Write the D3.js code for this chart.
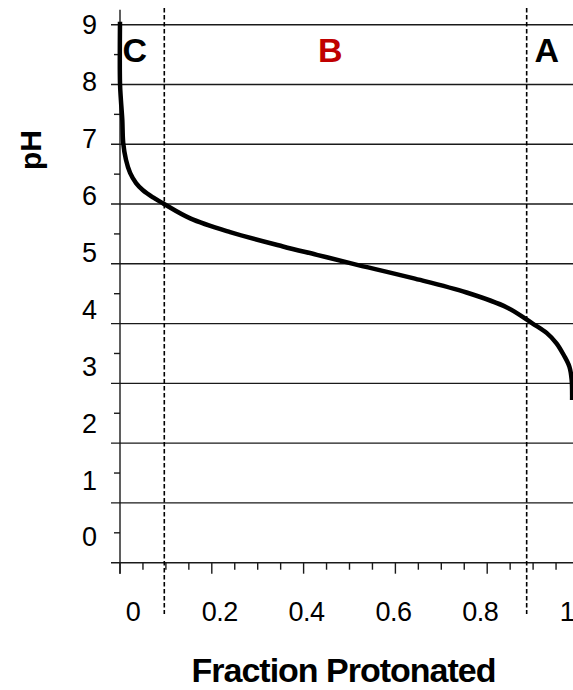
<!DOCTYPE html>
<html>
<head>
<meta charset="utf-8">
<script src="https://cdn.jsdelivr.net/npm/d3@7"></script>
<style>
  html, body { margin: 0; padding: 0; background: #fff; }
  svg { display: block; font-family: "Liberation Sans", Arial, Helvetica, sans-serif; }
</style>
</head>
<body>
<svg id="chart" width="573" height="690"></svg>
<script>
// ---- data ----
const fractionProtonated = [0.000, 0.000, 0.002, 0.005, 0.007, 0.013, 0.022, 0.035, 0.050, 0.072, 0.094, 0.153, 0.240, 0.355, 0.429, 0.508, 0.638, 0.755, 0.843, 0.899, 0.930, 0.951, 0.967, 0.979, 0.984, 0.985];
const pHValues           = [9.05,  8.02,  7.74,  7.41,  7.02,  6.74,  6.52,  6.35,  6.23,  6.11,  6.01,  5.76,  5.53,  5.29,  5.15,  5.00,  4.76,  4.52,  4.27,  4.00,  3.84,  3.67,  3.47,  3.28,  3.06,  2.72];
const yTickLabels = [0, 1, 2, 3, 4, 5, 6, 7, 8, 9];
const xTickLabels = ["0", "0.2", "0.4", "0.6", "0.8", "1"];
const xTickValues = [0, 0.2, 0.4, 0.6, 0.8, 1];
const regionBoundaries = [0.0965, 0.886];
const regionLabels = ["C", "B", "A"];
const regionLabelX = [0.032, 0.458, 0.93];
const regionLabelColors = ["#000000", "#c00000", "#000000"];
const xTitle = "Fraction Protonated";
const yTitle = "pH";

// ---- layout ----
const svg = d3.select("#chart");
const x = d3.scaleLinear().domain([0, 1]).range([120, 579]);
const y = d3.scaleLinear().domain([0, 9]).range([562.7, 24.7]);
// tick labels sit on a slightly compressed band (as in the reference)
const xLabelPos = d3.scaleLinear().domain([0, 1]).range([133, 567]);
const yLabelPos = d3.scaleLinear().domain([0, 9]).range([536.7, 24.7]);
const font = "'Liberation Sans', Arial, Helvetica, sans-serif";

// horizontal gridlines (including major y ticks extending left)
svg.append("g").selectAll("line").data(d3.range(1, 10)).join("line")
  .attr("x1", 111).attr("x2", x(1))
  .attr("y1", d => y(d)).attr("y2", d => y(d))
  .attr("stroke", "#1a1a1a").attr("stroke-width", 1.4);

// y minor ticks at halves
svg.append("g").selectAll("line").data(d3.range(0.5, 9.5, 1)).join("line")
  .attr("x1", 114).attr("x2", x(0))
  .attr("y1", d => y(d)).attr("y2", d => y(d))
  .attr("stroke", "#1a1a1a").attr("stroke-width", 1.4);

// y axis line
svg.append("line").attr("x1", x(0)).attr("x2", x(0))
  .attr("y1", y(9.25)).attr("y2", y(0) + 11)
  .attr("stroke", "#1a1a1a").attr("stroke-width", 1.4);
// x axis line
svg.append("line").attr("x1", 111).attr("x2", x(1))
  .attr("y1", y(0)).attr("y2", y(0))
  .attr("stroke", "#1a1a1a").attr("stroke-width", 1.4);

// x ticks: every 0.05, longer at 0.2 steps
const xTicks = d3.range(0, 21).map(i => i * 0.05);
svg.append("g").selectAll("line").data(xTicks).join("line")
  .attr("x1", d => x(d)).attr("x2", d => x(d))
  .attr("y1", y(0)).attr("y2", (d, i) => y(0) + (i % 4 === 0 ? 11 : 7))
  .attr("stroke", "#1a1a1a").attr("stroke-width", 1.4);

// dashed region boundaries
svg.append("g").selectAll("line").data(regionBoundaries).join("line")
  .attr("x1", d => x(d)).attr("x2", d => x(d))
  .attr("y1", 8).attr("y2", 614)
  .attr("stroke", "#000").attr("stroke-width", 1.6)
  .attr("stroke-dasharray", "4.5,2.5");

// y tick labels
svg.append("g").selectAll("text").data(yTickLabels).join("text")
  .attr("x", 97).attr("y", d => yLabelPos(d)).attr("dy", "0.36em")
  .attr("text-anchor", "end")
  .style("font-family", font).style("font-size", "27px").attr("fill", "#000")
  .text(d => d);

// x tick labels
svg.append("g").selectAll("text").data(xTickValues).join("text")
  .attr("x", d => xLabelPos(d)).attr("y", 620.5)
  .attr("text-anchor", "middle")
  .style("font-family", font).style("font-size", "27px").style("letter-spacing", "-0.5px").attr("fill", "#000")
  .text((d, i) => xTickLabels[i]);

// curve
const pts = fractionProtonated.map((f, i) => [f, pHValues[i]]);
svg.append("path").datum(pts)
  .attr("d", d3.line().x(d => x(d[0])).y(d => y(d[1])).curve(d3.curveCatmullRom.alpha(0.5)))
  .attr("fill", "none").attr("stroke", "#000").attr("stroke-width", 4.5)
  .attr("stroke-linejoin", "round");

// region letters
svg.append("g").selectAll("text").data(regionLabels).join("text")
  .attr("x", (d, i) => x(regionLabelX[i])).attr("y", y(8.02) - 21)
  .attr("text-anchor", "middle")
  .style("font-family", font).style("font-size", "34px").style("font-weight", "bold")
  .attr("fill", (d, i) => regionLabelColors[i])
  .text(d => d);

// axis titles
svg.append("text").attr("x", 343.5).attr("y", 682)
  .attr("text-anchor", "middle")
  .style("font-family", font).style("font-size", "34px").style("font-weight", "bold")
  .style("letter-spacing", "-1px")
  .text(xTitle);
svg.append("text").attr("transform", "translate(41,150) rotate(-90)")
  .attr("text-anchor", "middle")
  .style("font-family", font).style("font-size", "30px").style("font-weight", "bold")
  .text(yTitle);
</script>
</body>
</html>
